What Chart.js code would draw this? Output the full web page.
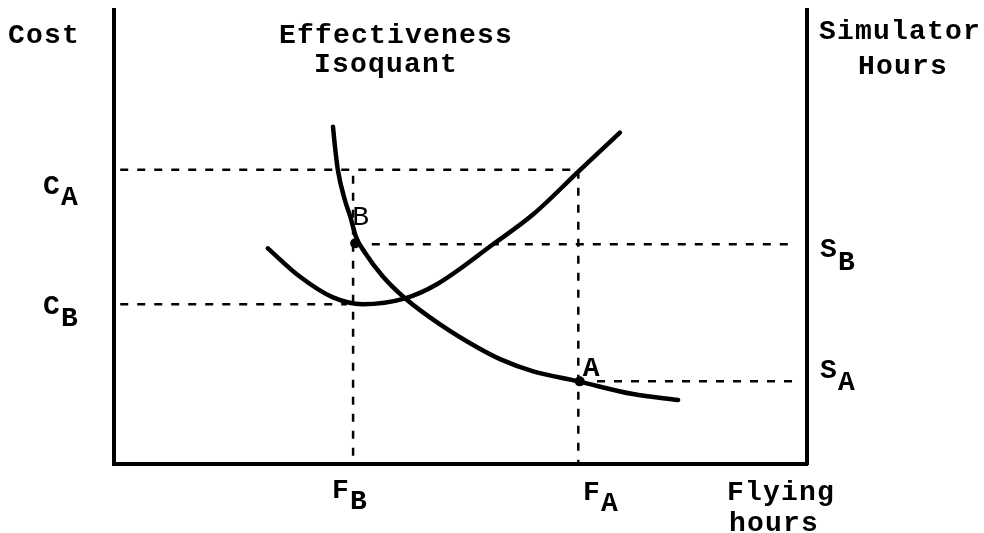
<!DOCTYPE html>
<html>
<head>
<meta charset="utf-8">
<script src="https://cdn.jsdelivr.net/npm/chart.js@4.4.1/dist/chart.umd.min.js"></script>
<style>
  html, body { margin: 0; padding: 0; background: #fff; }
  canvas { display: block; }
</style>
</head>
<body>
<canvas id="c" width="984" height="533"></canvas>
<script>
// ---- data (axes run 0..10 in arbitrary units) ----
const isoquantX = [3.16, 3.19, 3.23, 3.33, 3.41, 3.49, 3.62, 3.88, 4.20, 4.70, 5.24, 5.57, 6.05, 6.70, 7.49, 8.14];
const isoquantY = [7.43, 6.97, 6.48, 5.82, 5.45, 5.01, 4.66, 4.13, 3.65, 3.08, 2.57, 2.31, 2.04, 1.82, 1.54, 1.41];

const costX = [2.22, 2.68, 3.16, 3.59, 4.20, 4.66, 5.47, 6.05, 6.70, 7.30];
const costY = [4.75, 4.13, 3.67, 3.52, 3.65, 3.96, 4.84, 5.50, 6.44, 7.30];

// reference levels
const costLevels = [6.48, 3.52];          // C_A, C_B
const costLevelNames = ['A', 'B'];
const simLevels = [4.84, 1.82];           // S_B, S_A
const simLevelNames = ['B', 'A'];
const flyLevels = [3.45, 6.70];           // F_B, F_A
const flyLevelNames = ['B', 'A'];

const pointB = [3.48, 4.86];
const pointA = [6.72, 1.82];

// ---- datasets ----
const toXY = (xs, ys) => xs.map((x, i) => ({ x: x, y: ys[i] }));
const dashStyle = {
  showLine: true, borderColor: '#000', borderWidth: 2.5, borderDash: [8, 9],
  pointRadius: 0, fill: false, tension: 0
};
const curveStyle = {
  showLine: true, borderColor: '#000', borderWidth: 4.5, pointRadius: 0,
  fill: false, cubicInterpolationMode: 'monotone', borderCapStyle: 'round'
};

const datasets = [
  Object.assign({ label: 'C_A / F_A', data: [
    { x: 0.09, y: costLevels[0] }, { x: flyLevels[1], y: costLevels[0] }, { x: flyLevels[1], y: 0 }
  ] }, dashStyle),
  Object.assign({ label: 'F_B', data: [
    { x: flyLevels[0], y: 6.35 }, { x: flyLevels[0], y: 0 }
  ] }, dashStyle),
  Object.assign({ label: 'C_B', data: [
    { x: 0.09, y: costLevels[1] }, { x: 3.36, y: costLevels[1] }
  ] }, dashStyle),
  Object.assign({ label: 'S_B', data: [
    { x: 3.72, y: simLevels[0] }, { x: 9.80, y: simLevels[0] }
  ] }, dashStyle),
  Object.assign({ label: 'S_A', data: [
    { x: 6.97, y: simLevels[1] }, { x: 9.83, y: simLevels[1] }
  ] }, dashStyle),
  Object.assign({ label: 'Effectiveness Isoquant', data: toXY(isoquantX, isoquantY) }, curveStyle),
  Object.assign({ label: 'Cost', data: toXY(costX, costY) }, curveStyle),
  { label: 'Points', data: [{ x: pointB[0], y: pointB[1] }, { x: pointA[0], y: pointA[1] }],
    showLine: false, pointRadius: 5, pointBackgroundColor: '#000', pointBorderColor: '#000', borderWidth: 0 }
];

// ---- text plugin ----
const MONO = '"Liberation Mono", "DejaVu Sans Mono", monospace';
const textPlugin = {
  id: 'labels',
  afterDraw(chart) {
    const ctx = chart.ctx;
    ctx.save();
    ctx.fillStyle = '#000';
    ctx.textBaseline = 'alphabetic';
    ctx.textAlign = 'left';
    try { ctx.letterSpacing = '1.2px'; } catch (e) {}
    const big = 'bold 28px ' + MONO;
    const t = (s, x, y, f) => { ctx.font = f || big; ctx.fillText(s, x, y); };
    const sub = (main, s, x, y, dy) => { t(main, x, y); t(s, x + 18, y + dy); };

    // titles
    t('Cost', 8, 43);
    t('Effectiveness', 279, 43);
    t('Isoquant', 314, 72);
    t('Simulator', 819, 39);
    t('Hours', 858, 74);
    t('Flying', 727, 500);
    t('hours', 729, 531);

    // level labels
    sub('C', costLevelNames[0], 43, 194, 11);
    sub('C', costLevelNames[1], 43, 314, 12);
    sub('F', flyLevelNames[0], 332, 498, 11);
    sub('F', flyLevelNames[1], 583, 500, 11);
    sub('S', simLevelNames[0], 820, 257, 13);
    sub('S', simLevelNames[1], 820, 378, 12);

    // point labels
    const xs = chart.scales.x, ys = chart.scales.y;
    t('B', xs.getPixelForValue(pointB[0]) - 3, ys.getPixelForValue(pointB[1]) - 18, '28px ' + MONO);
    t('A', xs.getPixelForValue(pointA[0]) + 3, ys.getPixelForValue(pointA[1]) - 5, 'bold 28px ' + MONO);
    ctx.restore();
  }
};

const axisCommon = {
  type: 'linear', min: 0, max: 10,
  grid: { display: false, drawTicks: false },
  ticks: { display: false },
  border: { display: true, color: '#000', width: 4 }
};

new Chart(document.getElementById('c'), {
  type: 'scatter',
  data: { datasets: datasets },
  options: {
    responsive: false,
    animation: false,
    events: [],
    layout: { padding: { left: 114, right: 177, top: 10, bottom: 69 } },
    plugins: { legend: { display: false }, tooltip: { enabled: false }, title: { display: false } },
    scales: {
      x: Object.assign({ position: 'bottom' }, axisCommon),
      y: Object.assign({ position: 'left' }, axisCommon),
      y2: Object.assign({ position: 'right' }, axisCommon)
    }
  },
  plugins: [textPlugin]
});
</script>
</body>
</html>
